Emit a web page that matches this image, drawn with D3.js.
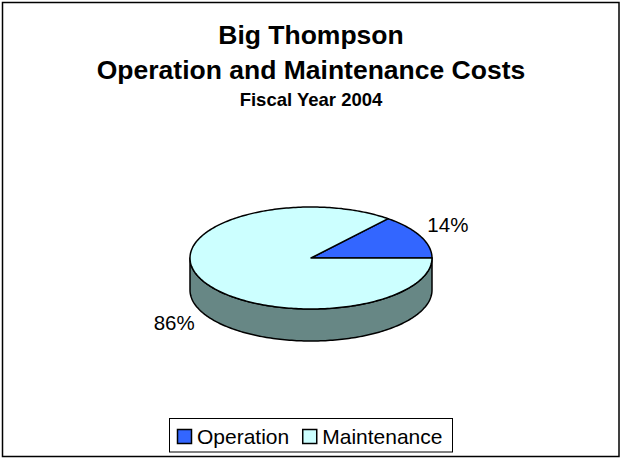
<!DOCTYPE html>
<html>
<head>
<meta charset="utf-8">
<script src="https://cdn.jsdelivr.net/npm/d3@7"></script>
<style>
  body { margin: 0; background: #fff; }
  text { font-family: Arial, "Liberation Sans", sans-serif; }
</style>
</head>
<body>
<div id="chart"></div>
<script>
// dados do gráfico
const categories = ["Operation", "Maintenance"];
const shares = [14, 86];
const percentLabels = ["14%", "86%"];
const titleLines = ["Big Thompson", "Operation and Maintenance Costs", "Fiscal Year 2004"];

const width = 622, height = 459;
const topColors = ["#3366ff", "#ccffff"];
const sideColors = ["#1f3d99", "#678785"];

const svg = d3.select("#chart").append("svg")
    .attr("width", width)
    .attr("height", height);

svg.append("rect")
    .attr("x", 2.5).attr("y", 2.5)
    .attr("width", 616.5).attr("height", 454)
    .attr("fill", "#fff")
    .attr("stroke", "#000")
    .attr("stroke-width", 1.5);

// Títulos
const titleSpec = [
    { y: 44, size: 26.5 },
    { y: 79, size: 26.5 },
    { y: 106, size: 18.5 }
];
svg.selectAll(".title")
    .data(titleLines)
    .join("text")
    .attr("class", "title")
    .attr("x", 311)
    .attr("y", (d, i) => titleSpec[i].y)
    .attr("text-anchor", "middle")
    .attr("font-weight", "bold")
    .attr("font-size", (d, i) => titleSpec[i].size)
    .text(d => d);

// Pizza 3D (elipse)
const cx = 311, cy = 258, rx = 121, ry = 51, depth = 32;
const pie = d3.pie().sort(null)
    .startAngle(Math.PI / 2)
    .endAngle(Math.PI / 2 - 2 * Math.PI)
    .value(d => d);
const arcs = pie(shares);

// ângulo d3 (horário a partir de 12h) -> ponto na elipse
const pt = (a, dy = 0) => [cx + rx * Math.sin(a), cy - ry * Math.cos(a) + dy];
const sample = (a0, a1, dy) => {
    const n = Math.max(2, Math.ceil(Math.abs(a1 - a0) / 0.02));
    return d3.range(n + 1).map(i => pt(a0 + (a1 - a0) * i / n, dy));
};
const line = d3.line();

const g = svg.append("g");

// Lateral: só a metade da frente (a entre PI/2 e 3PI/2)
arcs.forEach((d, i) => {
    let lo = Math.min(d.startAngle, d.endAngle), hi = Math.max(d.startAngle, d.endAngle);
    const shift = Math.ceil((Math.PI / 2 - lo) / (2 * Math.PI) - 1e-9) * 2 * Math.PI;
    lo += shift; hi += shift;
    const s = Math.max(lo, Math.PI / 2), e = Math.min(hi, 3 * Math.PI / 2);
    if (e - s < 1e-6) return;
    const pts = sample(s, e, 0).concat(sample(e, s, depth));
    g.append("path")
        .attr("d", line(pts) + "Z")
        .attr("fill", sideColors[i])
        .attr("stroke", "#000")
        .attr("stroke-width", 1.5)
        .attr("stroke-linejoin", "round");
});

// Topo das fatias
g.selectAll(".slice")
    .data(arcs)
    .join("path")
    .attr("class", "slice")
    .attr("d", d => line([[cx, cy]].concat(sample(d.startAngle, d.endAngle, 0))) + "Z")
    .attr("fill", (d, i) => topColors[i])
    .attr("stroke", "#000")
    .attr("stroke-width", 1.5)
    .attr("stroke-linejoin", "round");

// Rótulos de porcentagem
svg.selectAll(".pct")
    .data(arcs)
    .join("text")
    .attr("class", "pct")
    .attr("x", d => cx + 1.25 * rx * Math.sin((d.startAngle + d.endAngle) / 2))
    .attr("y", d => {
        const c = Math.cos((d.startAngle + d.endAngle) / 2);
        return cy - 1.5 * ry * c + (c < 0 ? depth : 0) + 7;
    })
    .attr("text-anchor", "middle")
    .attr("font-size", 20.5)
    .text((d, i) => percentLabels[i]);

// Legenda
const legend = svg.append("g");
legend.append("rect")
    .attr("x", 169.5).attr("y", 418.5)
    .attr("width", 283).attr("height", 33.5)
    .attr("fill", "#fff")
    .attr("stroke", "#000")
    .attr("stroke-width", 1);

let lx = 177.5;
categories.forEach((c, i) => {
    legend.append("rect")
        .attr("x", lx).attr("y", 429.5)
        .attr("width", 14).attr("height", 14)
        .attr("fill", topColors[i])
        .attr("stroke", "#000")
        .attr("stroke-width", 1.5);
    const t = legend.append("text")
        .attr("x", lx + 19.5)
        .attr("y", 444)
        .attr("font-size", 21)
        .text(c);
    lx += 19.5 + t.node().getComputedTextLength() + 13.5;
});
</script>
</body>
</html>
